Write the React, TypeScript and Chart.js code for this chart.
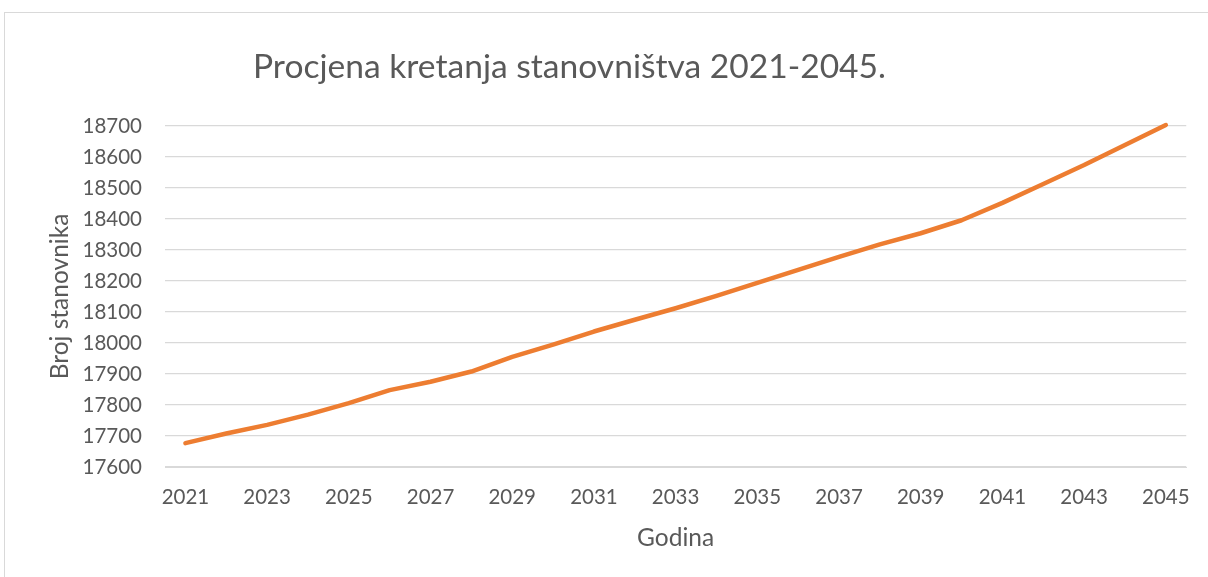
import React, { useEffect, useRef } from "react";
import { Chart, registerables } from "chart.js";

Chart.register(...registerables);

const years: string[] = [
  "2021", "2022", "2023", "2024", "2025", "2026", "2027", "2028", "2029",
  "2030", "2031", "2032", "2033", "2034", "2035", "2036", "2037", "2038",
  "2039", "2040", "2041", "2042", "2043", "2044", "2045",
];

const population: number[] = [
  17677, 17708, 17736, 17769, 17806, 17848, 17875, 17908, 17955,
  17995, 18037, 18075, 18112, 18152, 18194, 18236, 18278, 18318,
  18354, 18396, 18452, 18513, 18574, 18639, 18703,
];

const yMin = 17600;
const yMax = 18700;
const yStep = 100;

const chartTitle = "Procjena kretanja stanovništva 2021-2045.";
const yAxisTitle = "Broj stanovnika";
const xAxisTitle = "Godina";

const FONT = "Lato, 'Open Sans', sans-serif";
const TEXT = "#595959";
const GRID = "#d9d9d9";

const titlePlugin = {
  id: "customTitle",
  afterDraw(chart: any) {
    const ctx = chart.ctx;
    ctx.save();
    ctx.font = `33.6px ${FONT}`;
    ctx.fillStyle = TEXT;
    ctx.textAlign = "left";
    ctx.textBaseline = "alphabetic";
    ctx.fillText(chartTitle, 253, 78);
    ctx.restore();
  },
};

export default function App() {
  const ref = useRef<HTMLCanvasElement | null>(null);

  useEffect(() => {
    if (!ref.current) return;
    const chart = new Chart(ref.current, {
      type: "line",
      data: {
        labels: years,
        datasets: [
          {
            label: yAxisTitle,
            data: population,
            borderColor: "#ED7D31",
            backgroundColor: "#ED7D31",
            borderWidth: 4.5,
            borderCapStyle: "round",
            borderJoinStyle: "round",
            pointRadius: 0,
            tension: 0,
            fill: false,
            clip: false,
          },
        ],
      },
      options: {
        responsive: false,
        animation: false,
        layout: { padding: { top: 126, right: 20, left: 0, bottom: 0 } },
        plugins: {
          legend: { display: false },
          title: { display: false },
          tooltip: { enabled: false },
        },
        scales: {
          x: {
            offset: true,
            grid: { display: false, drawTicks: false },
            border: { display: true, color: GRID },
            ticks: {
              autoSkip: false,
              maxRotation: 0,
              minRotation: 0,
              padding: 18,
              color: TEXT,
              font: { family: FONT, size: 20.5 },
              callback: (_v: any, i: number) => (i % 2 === 0 ? years[i] : ""),
            },
            title: {
              display: true,
              text: xAxisTitle,
              color: TEXT,
              font: { family: FONT, size: 24.5 },
              padding: { top: 0, bottom: 24 },
            },
            afterFit: (s: any) => {
              s.height = 110;
            },
          },
          y: {
            min: yMin,
            max: yMax,
            grid: { color: GRID, lineWidth: 1.3, drawTicks: false },
            border: { display: false },
            ticks: {
              stepSize: yStep,
              padding: 23,
              color: TEXT,
              font: { family: FONT, size: 20.5 },
              callback: (v: any) => String(v),
            },
            title: {
              display: true,
              text: yAxisTitle,
              color: TEXT,
              font: { family: FONT, size: 24.5 },
              padding: { top: 45, bottom: 0 },
            },
            afterFit: (s: any) => {
              s.width = 165;
            },
          },
        },
      },
      plugins: [titlePlugin],
    });
    return () => chart.destroy();
  }, []);

  return (
    <div
      style={{
        position: "absolute",
        left: 0,
        top: 0,
        width: 1208,
        height: 577,
        overflow: "hidden",
        background: "#ffffff",
      }}
    >
      <div
        style={{
          position: "absolute",
          left: 4,
          top: 12,
          width: 1400,
          height: 800,
          border: `1px solid ${GRID}`,
          boxSizing: "border-box",
        }}
      />
      <canvas
        ref={ref}
        width={1208}
        height={577}
        style={{ position: "absolute", left: 0, top: 0 }}
      />
    </div>
  );
}
